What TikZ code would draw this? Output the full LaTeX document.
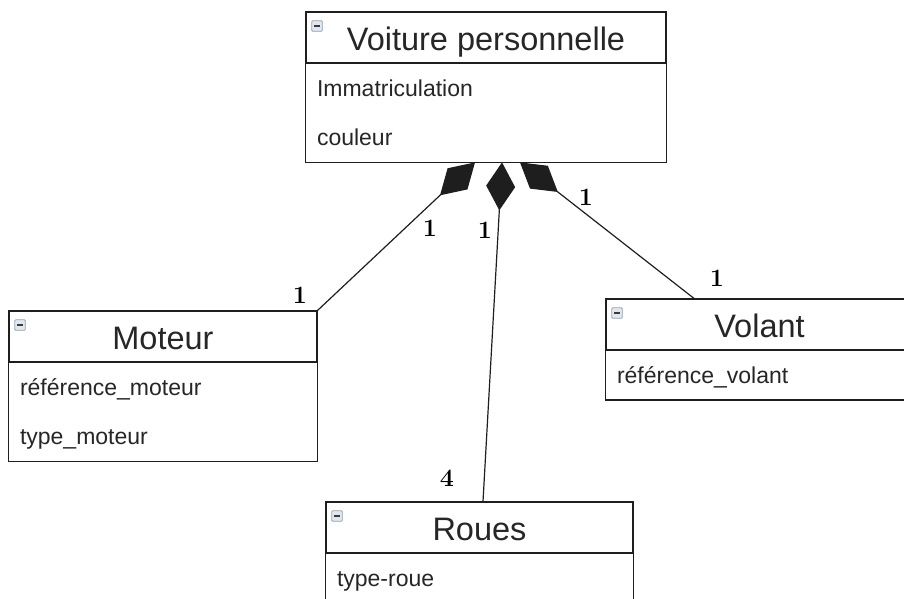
\documentclass[tikz,border=0pt]{standalone}
\usepackage{fontspec}
\newfontfamily\umlfont{Liberation Sans}
\usetikzlibrary{positioning,arrows.meta}
\definecolor{boxline}{HTML}{1E1E1E}
\definecolor{iconfill}{HTML}{E2E7EE}
\definecolor{iconedge}{HTML}{8FA0B4}
\definecolor{icondash}{HTML}{3A3A3A}

\tikzset{
  classhead/.style={draw=boxline, line width=1.2pt, inner sep=0pt, minimum height=51pt,
    text height=27pt, text depth=2pt, text=black!85,
    font=\umlfont\fontsize{32.5}{38}\selectfont},
  attrib/.style={inner xsep=11pt, inner ysep=0pt, minimum height=49pt, align=left,
    text width=#1, text height=19pt, text depth=3pt, text=black!85,
    font=\umlfont\fontsize{23}{27}\selectfont},
  collapse/.style={draw=iconedge, fill=iconfill, line width=0.8pt, rounded corners=1pt,
    minimum size=10.5pt, inner sep=0pt,
    path picture={\draw[icondash, line width=1.4pt]
      ([xshift=2.5pt]path picture bounding box.west) -- ([xshift=-2.5pt]path picture bounding box.east);}},
  classbox/.style={draw=boxline, line width=1.2pt},
  compo/.style={draw=boxline, line width=1.2pt, -{Diamond[length=48pt,width=29pt]}},
  mult/.style={inner sep=0pt, font=\bfseries\fontsize{25}{30}\selectfont}
}

\begin{document}
\begin{tikzpicture}[x=1pt,y=-1pt]
  \useasboundingbox (0,0) rectangle (904,598);
  \clip (0,0) rectangle (904,598);

  %classes
  \node[classhead, minimum width=360pt] (voiture) at (486,37.5) {Voiture personnelle};
  \node[attrib=338pt, below=0pt of voiture] (immat) {Immatriculation};
  \node[attrib=338pt, below=0pt of immat] (couleur) {couleur};
  \draw[classbox] (voiture.south west) rectangle (couleur.south east);

  \node[classhead, minimum width=308pt] (moteur) at (163,336.5) {Moteur};
  \node[attrib=286pt, below=0pt of moteur] (refmot) {référence\_moteur};
  \node[attrib=286pt, below=0pt of refmot] (typemot) {type\_moteur};
  \draw[classbox] (moteur.south west) rectangle (typemot.south east);

  \node[classhead, minimum width=307pt] (volant) at (759.5,324.5) {Volant};
  \node[attrib=285pt, below=0pt of volant] (refvol) {référence\_volant};
  \draw[classbox] (volant.south west) rectangle (refvol.south east);

  \node[classhead, minimum width=307pt] (roues) at (479.5,527.5) {Roues};
  \node[attrib=285pt, below=0pt of roues] (typeroue) {type-roue};
  \draw[classbox] (roues.south west) rectangle (typeroue.south east);

  %collapse icons
  \foreach \c in {voiture,moteur,volant,roues} {
    \node[collapse, below right=9pt and 6pt of \c.north west] {};
  }

  %compositions
  \coordinate (tipM) at ([xshift=-11pt]couleur.south);
  \coordinate (tipR) at ([xshift=16pt]couleur.south);
  \coordinate (tipV) at ([xshift=34pt]couleur.south);
  \coordinate (footR) at ([xshift=3.5pt]roues.north);
  \coordinate (footV) at ([xshift=-65.5pt]volant.north);
  \draw[compo] (moteur.north east) -- (tipM);
  \draw[compo] (footR) -- (tipR);
  \draw[compo] (footV) -- (tipV);

  %multiplicities
  \node[mult] (mMv) at (430,228) {1};
  \node[mult] (mMm) at (300,295) {1};
  \node[mult] (mRv) at (485,230) {1};
  \node[mult] (mRr) at (447,478) {4};
  \node[mult] (mVv) at (586,197) {1};
  \node[mult] (mVl) at (717,278) {1};
\end{tikzpicture}
\end{document}
